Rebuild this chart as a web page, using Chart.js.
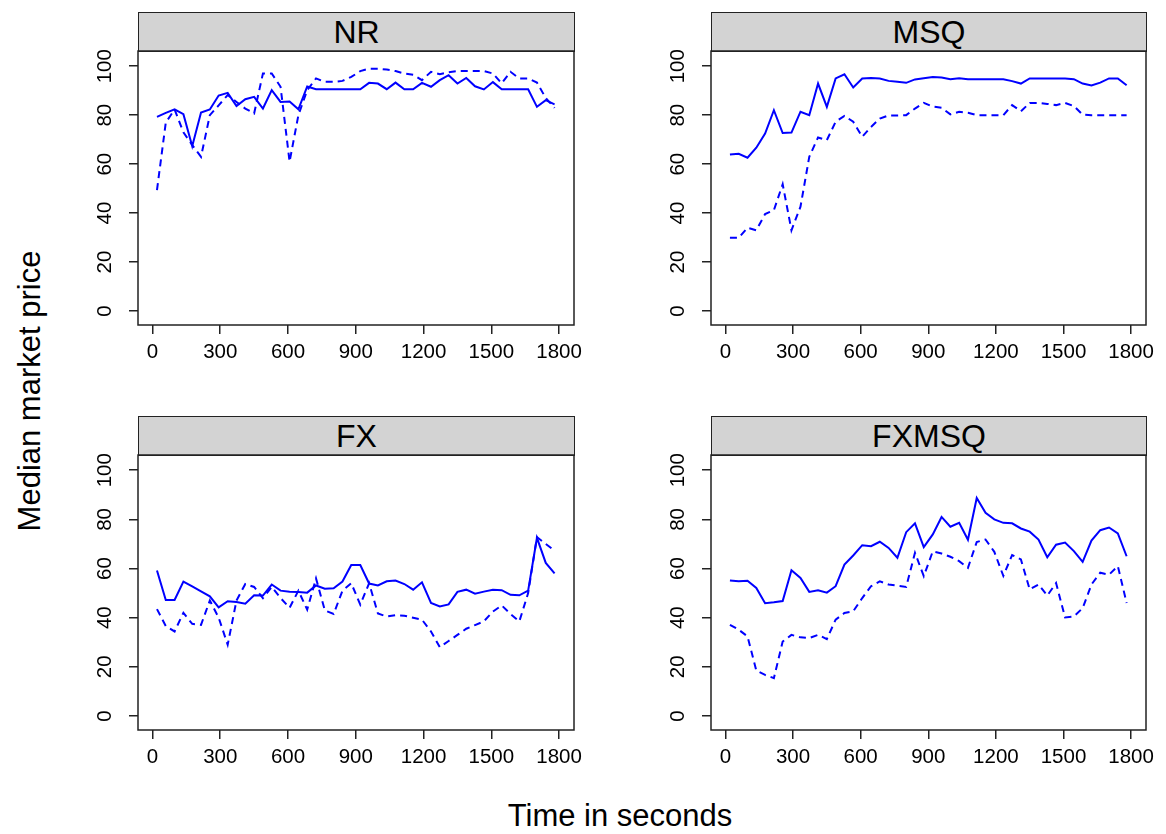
<!DOCTYPE html>
<html>
<head>
<meta charset="utf-8">
<script src="https://cdn.jsdelivr.net/npm/chart.js@4.4.1/dist/chart.umd.min.js"></script>
<style>
  body { margin:0; background:#fff; font-family:"Liberation Sans", Arial, sans-serif; }
  #page { position:relative; width:1166px; height:834px; overflow:hidden; background:#fff; }
  .strip { position:absolute; background:#d3d3d3; border:1.5px solid #222; box-sizing:border-box;
           text-align:center; font-size:32px; color:#000; }
  canvas { position:absolute; }
  .lab { position:absolute; font-size:31px; white-space:nowrap; color:#000; }
</style>
</head>
<body>
<div id="page">
  <div class="lab" id="ylab">Median market price</div>
  <div class="lab" id="xlab">Time in seconds</div>
</div>
<script>
// time bins (seconds)
var times = [20, 59, 98, 137, 176, 215, 254, 293, 333, 372, 411, 450, 489, 528, 567, 607,
  646, 685, 724, 763, 802, 841, 880, 920, 959, 998, 1037, 1076, 1115, 1154, 1193, 1233,
  1272, 1311, 1350, 1389, 1428, 1467, 1507, 1546, 1585, 1624, 1663, 1702, 1741, 1780];

var xTicks = [0, 300, 600, 900, 1200, 1500, 1800];
var yTicks = [0, 20, 40, 60, 80, 100];

// NR
var nrSolid = [79.3, 80.9, 82.4, 80.4, 67.3, 81.1, 82.3, 88.0, 89.1, 83.7,
  86.5, 87.5, 82.7, 90.2, 85.4, 85.6, 82.4, 91.7, 90.6, 90.6,
  90.6, 90.6, 90.6, 90.6, 93.2, 92.9, 90.6, 93.3, 90.6, 90.6,
  93.2, 91.6, 94.3, 96.3, 92.9, 95.2, 91.8, 90.5, 93.5, 90.6,
  90.6, 90.6, 90.6, 83.4, 86.1, 84.4];
var nrDashed = [49.4, 77, 82.3, 73, 67.8, 63, 80, 84, 88.2, 85.4,
  82.7, 80.7, 97, 97, 91.6, 61, 80, 90.2, 95, 93.6,
  93.6, 94, 95.6, 98, 99, 99, 98.6, 98, 97, 96.5,
  94.3, 97.7, 96.7, 97.5, 98, 98, 98, 98, 97, 93,
  97.7, 95, 95, 93.3, 87, 83];

// MSQ
var msqSolid = [63.9, 64.2, 62.6, 66.7, 72.5, 82, 72.7, 72.9, 81.4, 80,
  92.9, 83.4, 95, 96.7, 91.3, 95, 95.2, 95, 94, 93.6,
  93.2, 94.6, 95.1, 95.6, 95.4, 94.7, 95.1, 94.7, 94.7, 94.7,
  94.7, 94.7, 93.9, 92.9, 95, 95, 95, 95, 95, 94.7,
  92.9, 92.1, 93.3, 95, 95, 92.2];
var msqDashed = [29.9, 29.9, 34, 33, 39.6, 41.2, 51.8, 33, 42.6, 63,
  70.9, 69.8, 77.3, 79.7, 77.3, 71.2, 75.2, 78.6, 79.9, 79.9,
  80, 82.7, 85, 83.5, 83, 80.3, 81.4, 81, 80, 80,
  80, 80, 84.1, 81.6, 85, 85, 84.6, 84.1, 85, 83.7,
  80.2, 80, 80, 80, 80, 80];

// FX
var fxSolid = [59.2, 47.2, 47.2, 54.7, 52.7, 50.7, 48.7, 44.2, 46.7, 46.4,
  45.7, 49.1, 49, 53.5, 51, 50.6, 50.5, 50.2, 53.1, 51.8,
  52, 54.7, 61.4, 61.4, 53.9, 53.1, 54.8, 55.1, 53.7, 51.4,
  54.4, 46, 44.6, 45.4, 50.5, 51.4, 49.8, 50.6, 51.4, 51.2,
  49.3, 49.1, 51, 72.5, 62.3, 58];
var fxDashed = [43.5, 36.6, 34.4, 42, 37.5, 37.1, 47, 40, 29, 47,
  53.7, 52.5, 48, 52.5, 48, 44, 51, 43.3, 56, 43,
  41.5, 51, 54, 45.3, 54, 41.7, 40.5, 41, 40.8, 40,
  39.2, 34.4, 28, 30.5, 33, 35.5, 37, 38.5, 42.5, 45,
  41.5, 38.5, 50, 72.8, 70, 67.3];

// FXMSQ
var fxmsqSolid = [55.1, 54.8, 55, 52.1, 45.9, 46.3, 46.8, 59.3, 56.2, 50.5,
  51.2, 50.2, 52.8, 61.6, 65.3, 69.5, 69.1, 70.9, 68.4, 64.4,
  74.8, 78.4, 68.7, 73.9, 81, 77, 78.6, 71.7, 88.7, 82.7,
  80, 78.6, 78.4, 76.3, 75, 71.8, 64.6, 69.7, 70.6, 67.1,
  62.7, 71.4, 75.6, 76.7, 74.3, 65];
var fxmsqDashed = [37.1, 35.1, 32.4, 18.5, 16.7, 15.4, 30.3, 33, 32, 31.7,
  33, 31.3, 39.2, 41.9, 42.6, 48, 52.8, 54.8, 53.5, 53,
  52.5, 66.4, 56.9, 67, 66.1, 64.8, 63, 60.3, 70.8, 71.8,
  66.8, 57, 65.5, 63.7, 51.5, 53.5, 49, 54.1, 40.1, 40.5,
  43.9, 53.5, 58.3, 57.5, 61, 46];

// panel boxes on the page
var panels = [
  {name: 'NR',    solid: nrSolid,    dashed: nrDashed,    left: 138, top: 51,  w: 436, h: 274},
  {name: 'MSQ',   solid: msqSolid,   dashed: msqDashed,   left: 711, top: 51,  w: 435, h: 274},
  {name: 'FX',    solid: fxSolid,    dashed: fxDashed,    left: 138, top: 455, w: 436, h: 275},
  {name: 'FXMSQ', solid: fxmsqSolid, dashed: fxmsqDashed, left: 711, top: 455, w: 435, h: 275}
];

var page = document.getElementById('page');
var stripH = 39;
var padL = 70, padT = 20, padR = 30, padB = 50;

// box round the plot + R style tick labels
var framePlugin = {
  id: 'frame',
  afterDraw: function(chart){
    var ctx = chart.ctx, a = chart.chartArea;
    ctx.save();
    ctx.strokeStyle = '#222';
    ctx.lineWidth = 1.5;
    ctx.strokeRect(a.left, a.top, a.right - a.left, a.bottom - a.top);
    ctx.fillStyle = '#000';
    ctx.font = '20.5px "Liberation Sans", Arial, sans-serif';
    ctx.textAlign = 'center';
    ctx.textBaseline = 'middle';
    for(var i = 0; i < xTicks.length; i++){
      ctx.fillText(String(xTicks[i]), chart.scales.x.getPixelForValue(xTicks[i]), a.bottom + 27);
    }
    ctx.textBaseline = 'alphabetic';
    for(var j = 0; j < yTicks.length; j++){
      var y = chart.scales.y.getPixelForValue(yTicks[j]);
      ctx.save();
      ctx.translate(a.left - 27, y);
      ctx.rotate(-Math.PI / 2);
      ctx.fillText(String(yTicks[j]), 0, 0);
      ctx.restore();
    }
    ctx.restore();
  }
};

function toPoints(vals){
  var pts = [];
  for(var i = 0; i < vals.length; i++){
    pts.push({x: times[i], y: vals[i]});
  }
  return pts;
}

function makePanel(p){
  // strip header
  var s = document.createElement('div');
  s.className = 'strip';
  s.style.left = p.left + 'px';
  s.style.top = (p.top - stripH) + 'px';
  s.style.width = (p.w + 1) + 'px';
  s.style.height = (stripH + 1) + 'px';
  s.style.lineHeight = (stripH - 1) + 'px';
  s.textContent = p.name;
  page.appendChild(s);

  var cv = document.createElement('canvas');
  cv.width = p.w + padL + padR;
  cv.height = p.h + padT + padB;
  cv.style.left = (p.left - padL) + 'px';
  cv.style.top = (p.top - padT) + 'px';
  cv.style.width = cv.width + 'px';
  cv.style.height = cv.height + 'px';
  page.appendChild(cv);

  var tickGrid = {drawOnChartArea: false, drawTicks: true, tickLength: 9, color: '#222', lineWidth: 1.5};

  new Chart(cv, {
    type: 'line',
    data: {
      datasets: [
        {data: toPoints(p.solid), borderColor: '#0000ff', borderWidth: 2, pointRadius: 0, tension: 0, fill: false},
        {data: toPoints(p.dashed), borderColor: '#0000ff', borderWidth: 2, pointRadius: 0, tension: 0, fill: false, borderDash: [7, 5]}
      ]
    },
    options: {
      responsive: false,
      animation: false,
      layout: {padding: {left: 0, top: padT, right: padR, bottom: 0}},
      plugins: {legend: {display: false}, tooltip: {enabled: false}},
      scales: {
        x: {
          type: 'linear', min: -64, max: 1866,
          afterFit: function(sc){ sc.height = padB; },
          afterBuildTicks: function(sc){ sc.ticks = xTicks.map(function(v){ return {value: v}; }); },
          ticks: {display: false},
          grid: tickGrid,
          border: {display: false}
        },
        y: {
          type: 'linear', min: -5.7, max: 106.2,
          afterFit: function(sc){ sc.width = padL; },
          afterBuildTicks: function(sc){ sc.ticks = yTicks.map(function(v){ return {value: v}; }); },
          ticks: {display: false},
          grid: tickGrid,
          border: {display: false}
        }
      }
    },
    plugins: [framePlugin]
  });
}

for(var k = 0; k < panels.length; k++){
  makePanel(panels[k]);
}

// axis titles
var ylab = document.getElementById('ylab');
ylab.style.left = '30px';
ylab.style.top = '391px';
ylab.style.transform = 'translate(-50%, -50%) rotate(-90deg)';
var xlab = document.getElementById('xlab');
xlab.style.left = '620px';
xlab.style.top = '816px';
xlab.style.transform = 'translate(-50%, -50%)';
</script>
</body>
</html>
